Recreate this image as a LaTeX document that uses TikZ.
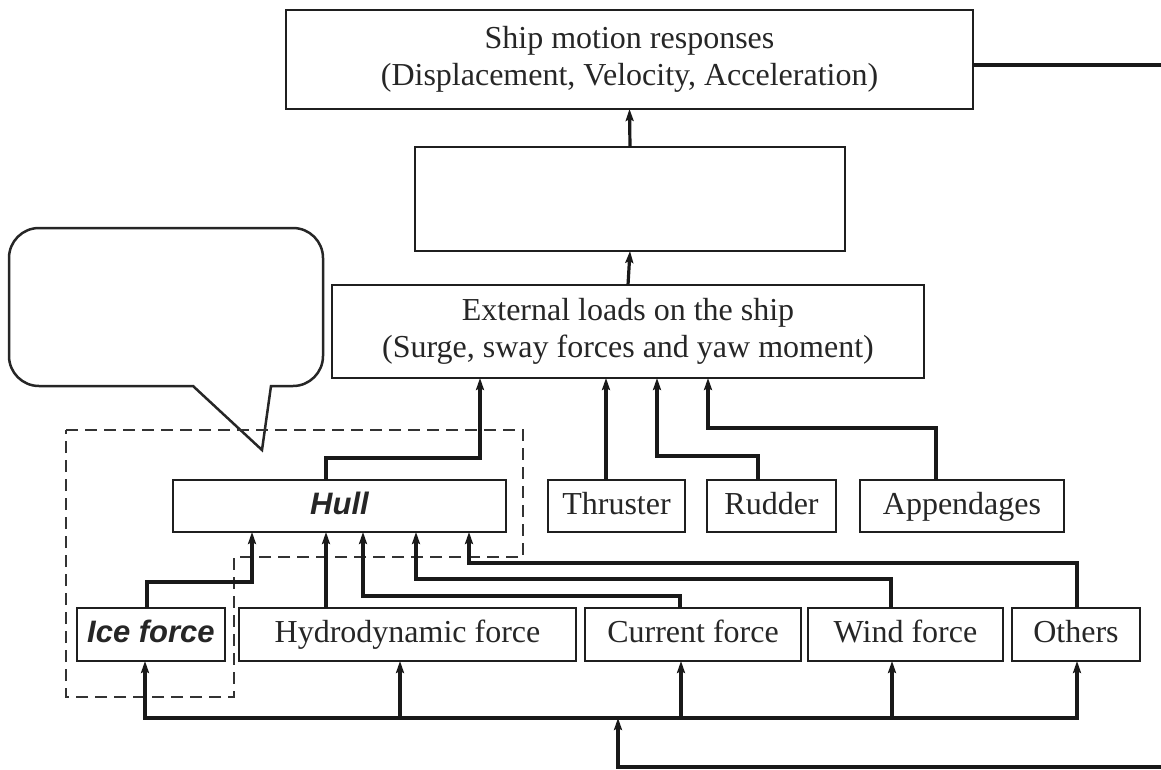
\documentclass[tikz,border=0pt]{standalone}
\usepackage{fontspec}
\setmainfont{Liberation Serif}
\newfontfamily\arialf{Liberation Sans}
\usetikzlibrary{arrows.meta}
\begin{document}
\begin{tikzpicture}[x=1pt,y=-1pt,
  box/.style={draw=black!88, line width=2.5pt, inner sep=0pt, outer sep=0pt, align=center,
    font=\fontsize{32}{37}\selectfont, text=black!85, fill=white},
  oneline/.style={box, text height=21pt, text depth=5pt},
  sansbox/.style={oneline, font=\arialf\bfseries\itshape\fontsize{31}{36}\selectfont},
  tip/.tip={Stealth[length=12pt,width=8pt,inset=2pt]},
  conn/.style={draw=black!90, line width=3.2pt, -tip},
  conntwo/.style={draw=black!90, line width=3.2pt, tip-tip},
  dashbox/.style={draw=black!80, line width=2.8pt, dash pattern=on 12pt off 7pt},
  callout/.style={draw=black!85, line width=2.5pt}]
\useasboundingbox (0,0) rectangle (1161,769);

% callout and dashed group
\draw[callout] (193,386) [rounded corners=30pt] -- (9,386) -- (9,228) -- (323,228) -- (323,386) [sharp corners] -- (271,386) -- (262,450) -- cycle;
\draw[dashbox] (66,430) -- (523,430) -- (523,557) -- (234,557) -- (234,697) -- (66,697) -- cycle;

% nodes
\node[box, minimum width=687pt, minimum height=99pt] (top) at (629.5,59.5)
  {Ship motion responses\\(Displacement, Velocity, Acceleration)};
\node[box, minimum width=430pt, minimum height=104pt] (mid) at (630,199) {};
\node[box, minimum width=592pt, minimum height=93pt] (ext) at (628,331.5)
  {External loads on the ship\\(Surge, sway forces and yaw moment)};
\node[sansbox, minimum width=333pt, minimum height=52pt] (hull) at (339.5,506) {Hull};
\node[oneline, minimum width=137pt, minimum height=52pt] (thr) at (616.5,506) {Thruster};
\node[oneline, minimum width=129pt, minimum height=52pt] (rud) at (771.5,506) {Rudder};
\node[oneline, minimum width=204pt, minimum height=52pt] (app) at (962,506) {Appendages};
\node[sansbox, minimum width=148pt, minimum height=53pt] (ice) at (151,634.5) {Ice force};
\node[oneline, minimum width=337pt, minimum height=53pt] (hyd) at (407.5,634.5) {Hydrodynamic force};
\node[oneline, minimum width=216pt, minimum height=53pt] (cur) at (693,634.5) {Current force};
\node[oneline, minimum width=195pt, minimum height=53pt] (wind) at (905.5,634.5) {Wind force};
\node[oneline, minimum width=128pt, minimum height=53pt] (oth) at (1076,634.5) {Others};

% upper connectors
\draw[conn] (mid.north) -- (top.south);
\draw[conn] (ext.north) -- (mid.south);
\draw[conn] ([xshift=-13.5pt]hull.north) -- ++(0,-22) -| ([xshift=-148pt]ext.south);
\draw[conn] ([xshift=-10.5pt]thr.north) -- ([xshift=-22pt]ext.south);
\draw[conn] ([xshift=-13.5pt]rud.north) -- ++(0,-24) -| ([xshift=29pt]ext.south);
\draw[conn] ([xshift=-26pt]app.north) -- ++(0,-52) -| ([xshift=80pt]ext.south);

% inputs to hull
\draw[conn] ([xshift=-4pt]ice.north) -- ++(0,-26) -| ([xshift=-87.5pt]hull.south);
\draw[conn] ([xshift=-81.5pt]hyd.north) -- ([xshift=-13.5pt]hull.south);
\draw[conn] ([xshift=-13pt]cur.north) -- ++(0,-12) -| ([xshift=23.5pt]hull.south);
\draw[conn] ([xshift=-14.5pt]wind.north) -- ++(0,-29) -| ([xshift=76.5pt]hull.south);
\draw[conn] ([xshift=1pt]oth.north) -- ++(0,-45) -| ([xshift=129.5pt]hull.south);

% bus
\coordinate (busL) at (145,718);
\coordinate (busR) at (1077,718);
\coordinate (b2) at (400,718);
\coordinate (b3) at (681,718);
\coordinate (b4) at (892,718);
\coordinate (bj) at (618,718);
\draw[conntwo] (ice.south -| busL) -- (busL) -- (busR) -- (oth.south -| busR);
\draw[conn] (b2) -- (hyd.south -| b2);
\draw[conn] (b3) -- (cur.south -| b3);
\draw[conn] (b4) -- (wind.south -| b4);

% feedback loop
\coordinate (loopTR) at (1180,65);
\coordinate (loopBR) at (1180,767);
\coordinate (loopBL) at (618,767);
\draw[conn] ([yshift=-5.5pt]top.east) -- (loopTR) -- (loopBR) -- (loopBL) -- (bj);
\end{tikzpicture}
\end{document}
